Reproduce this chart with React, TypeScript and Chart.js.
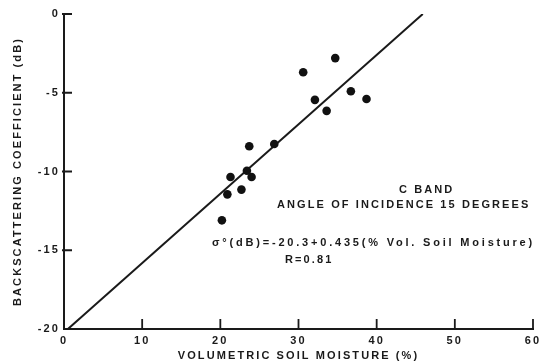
import React, { useEffect, useRef } from 'react';
import { Chart, registerables } from 'chart.js';

Chart.register(...registerables);

// Volumetric soil moisture (%) of each measurement
const moisture = [34.7, 30.6, 36.7, 38.7, 32.1, 33.6, 23.7, 26.9, 23.4, 21.3, 24.0, 22.7, 20.9, 20.2];
// Backscattering coefficient (dB) of each measurement
const backscatter = [-2.8, -3.7, -4.9, -5.4, -5.45, -6.15, -8.4, -8.25, -9.95, -10.35, -10.35, -11.15, -11.45, -13.1];
// Regression line end points (as drawn)
const fitX = [0.5, 45.9];
const fitY = [-20, 0];
// Axis ticks
const xTicks = [0, 10, 20, 30, 40, 50, 60];
const yTicks = [0, -5, -10, -15, -20];

const xTitle = 'VOLUMETRIC SOIL MOISTURE (%)';
const yTitle = 'BACKSCATTERING COEFFICIENT (dB)';
const note1 = 'C BAND';
const note2 = 'ANGLE OF INCIDENCE 15 DEGREES';
const note3 = 'σ°(dB)=-20.3+0.435(% Vol. Soil Moisture)';
const note4 = 'R=0.81';

const INK = '#1a1a1a';
const FONT = '"Liberation Sans", Arial, sans-serif';
const SPACING = '2.1px';

const paperPlugin = {
  id: 'paper',
  beforeDraw(chart: any) {
    chart.ctx.letterSpacing = SPACING;
  },
  afterDraw(chart: any) {
    const ctx = chart.ctx;
    const { left, bottom } = chart.chartArea;
    const xs = chart.scales.x;
    const ys = chart.scales.y;
    ctx.save();
    ctx.strokeStyle = INK;
    ctx.lineWidth = 1.8;
    ctx.beginPath();
    xs.ticks.forEach((t: any) => {
      if (t.value === 0) return;
      const px = xs.getPixelForValue(t.value);
      ctx.moveTo(px, bottom);
      ctx.lineTo(px, bottom - 10);
    });
    ys.ticks.forEach((t: any) => {
      if (t.value === -20) return;
      const py = ys.getPixelForValue(t.value);
      ctx.moveTo(left - 2, py);
      ctx.lineTo(left + 8, py);
    });
    ctx.stroke();

    ctx.fillStyle = INK;
    ctx.font = `bold 11px ${FONT}`;
    ctx.letterSpacing = SPACING;
    ctx.textBaseline = 'middle';
    ctx.textAlign = 'left';
    ctx.fillText(note1, 399, 190);
    ctx.fillText(note2, 277, 205);
    ctx.letterSpacing = '2.8px';
    ctx.fillText(note3, 212, 243);
    ctx.letterSpacing = SPACING;
    ctx.fillText(note4, 285, 260);
    ctx.restore();
  },
};

export default function App() {
  const ref = useRef<HTMLCanvasElement | null>(null);

  useEffect(() => {
    if (!ref.current) return;
    const chart = new Chart(ref.current, {
      type: 'scatter',
      data: {
        datasets: [
          {
            label: 'Measurements',
            data: moisture.map((x, i) => ({ x, y: backscatter[i] })),
            pointRadius: 4.3,
            pointBackgroundColor: '#111',
            pointBorderWidth: 0,
            showLine: false,
          },
          {
            label: 'Fit',
            data: fitX.map((x, i) => ({ x, y: fitY[i] })),
            showLine: true,
            pointRadius: 0,
            borderColor: INK,
            borderWidth: 2,
          },
        ],
      },
      options: {
        responsive: false,
        animation: false,
        devicePixelRatio: 1,
        layout: { padding: { top: 14, right: 20, left: 0, bottom: 0 } },
        plugins: { legend: { display: false }, tooltip: { enabled: false } },
        scales: {
          x: {
            type: 'linear',
            min: 0,
            max: 60,
            afterBuildTicks: (s: any) => {
              s.ticks = xTicks.map((v) => ({ value: v }));
            },
            afterFit: (s: any) => {
              s.height = 34;
            },
            grid: { display: false, drawTicks: false },
            border: { display: true, color: INK, width: 2 },
            ticks: {
              color: INK,
              padding: 5,
              maxRotation: 0,
              autoSkip: false,
              font: { family: FONT, size: 11, weight: 'bold' },
            },
            title: {
              display: true,
              text: xTitle,
              color: INK,
              padding: { top: 0, bottom: 0 },
              font: { family: FONT, size: 11, weight: 'bold' },
            },
          },
          y: {
            type: 'linear',
            min: -20,
            max: 0,
            afterBuildTicks: (s: any) => {
              s.ticks = yTicks.map((v) => ({ value: v }));
            },
            afterFit: (s: any) => {
              s.width = 64;
            },
            grid: { display: false, drawTicks: false },
            border: { display: true, color: INK, width: 2 },
            ticks: {
              color: INK,
              padding: 4,
              autoSkip: false,
              font: { family: FONT, size: 11, weight: 'bold' },
            },
            title: {
              display: true,
              text: yTitle,
              color: INK,
              padding: { top: 11, bottom: 0 },
              font: { family: FONT, size: 11, weight: 'bold' },
            },
          },
        },
      },
      plugins: [paperPlugin],
    } as any);
    return () => chart.destroy();
  }, []);

  return (
    <div style={{ position: 'absolute', left: 0, top: 0, width: 553, height: 363, background: '#fff' }}>
      <canvas ref={ref} width={553} height={363} style={{ display: 'block' }} />
    </div>
  );
}
